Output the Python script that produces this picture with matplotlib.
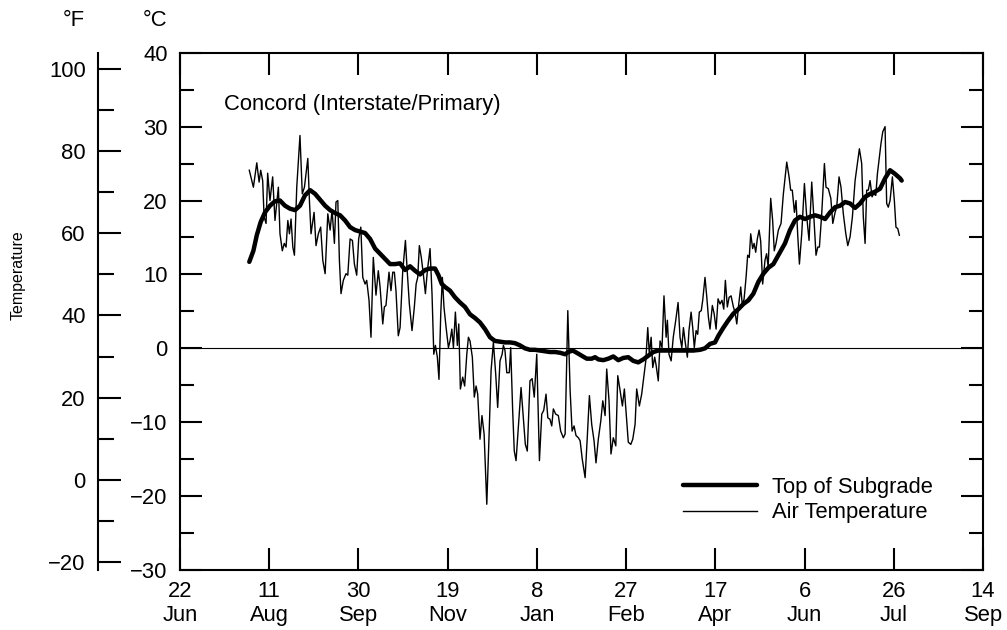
import matplotlib
matplotlib.use("Agg")
import matplotlib.pyplot as plt
from matplotlib.ticker import MultipleLocator, FixedLocator

plt.rcParams['font.family'] = ['Liberation Sans', 'DejaVu Sans']

# days counted from 22 Jun
tick_days = [0, 50, 100, 150, 200, 250, 300, 350, 400, 450]
tick_labels = ['22\nJun', '11\nAug', '30\nSep', '19\nNov', '8\nJan',
               '27\nFeb', '17\nApr', '6\nJun', '26\nJul', '14\nSep']
f_major = [-20, 0, 20, 40, 60, 80, 100]
f_minor = [-10, 10, 30, 50, 70, 90]

# daily air temperature (deg C)
air_day = [38.8, 41.1, 43.0, 44.3, 45.2, 46.3, 47.1, 48.2, 49.1, 50.4,
           51.9, 53.2, 55.1, 56.0, 57.3, 58.4, 59.4, 60.4, 61.3, 62.2,
           63.2, 64.1, 65.4, 67.2, 68.5, 69.7, 71.6, 72.5, 73.4, 75.1,
           76.2, 77.5, 78.8, 80.0, 81.3, 82.8, 84.1, 85.2, 86.5, 87.4,
           88.4, 89.3, 90.2, 91.5, 93.0, 94.0, 95.3, 96.6, 97.7, 99.0,
           100.1, 101.3, 102.4, 103.7, 104.6, 105.9, 107.0, 108.3, 109.8, 111.1,
           112.1, 113.6, 114.5, 115.4, 117.1, 118.2, 119.2, 120.1, 121.0, 122.3,
           123.3, 124.8, 126.3, 127.4, 128.5, 130.0, 131.3, 132.3, 133.2, 134.1,
           135.2, 136.3, 137.5, 138.6, 140.1, 141.2, 142.2, 143.1, 144.2, 145.1,
           146.1, 147.0, 147.9, 149.1, 150.4, 151.3, 152.3, 153.2, 154.3, 155.4,
           156.2, 157.1, 158.4, 159.5, 160.7, 161.6, 162.5, 163.8, 164.9, 165.9,
           166.8, 168.1, 169.2, 170.4, 171.9, 173.2, 174.3, 175.6, 176.9, 178.0,
           179.3, 180.5, 181.2, 182.1, 183.1, 184.5, 185.3, 186.4, 187.3, 188.3,
           189.6, 191.1, 192.4, 193.5, 194.6, 196.1, 197.3, 198.5, 199.9, 201.4,
           202.7, 203.8, 205.1, 206.1, 207.3, 208.3, 209.2, 210.5, 212.0, 213.3,
           214.8, 215.8, 217.3, 218.6, 219.7, 220.8, 221.9, 223.2, 224.2, 225.4,
           227.0, 228.2, 229.4, 230.7, 232.0, 233.1, 234.4, 235.8, 236.9, 238.2,
           239.1, 240.4, 241.5, 242.8, 244.2, 245.3, 246.6, 247.9, 249.0, 249.9,
           251.2, 252.6, 253.7, 255.0, 255.9, 257.4, 258.7, 259.6, 261.0, 262.1,
           263.0, 264.0, 264.9, 266.0, 266.8, 268.0, 269.0, 270.1, 271.2, 272.4,
           273.1, 274.0, 275.2, 276.4, 277.8, 279.1, 280.2, 281.2, 282.1, 283.0,
           284.3, 285.2, 286.4, 287.3, 288.2, 289.2, 290.1, 291.0, 292.1, 292.9,
           294.2, 295.2, 296.1, 297.0, 298.3, 299.3, 300.4, 301.5, 302.6, 303.7,
           304.7, 305.6, 306.7, 307.7, 308.8, 310.1, 311.0, 312.0, 313.1, 314.2,
           315.1, 316.1, 317.2, 318.1, 319.0, 319.8, 320.9, 321.7, 322.6, 323.5,
           324.5, 325.4, 326.5, 327.8, 328.7, 329.6, 331.0, 332.1, 333.0, 334.0,
           335.3, 336.8, 338.1, 340.0, 341.3, 342.2, 343.1, 344.3, 345.2, 346.2,
           347.1, 348.4, 349.9, 351.2, 352.5, 354.0, 355.3, 356.4, 357.4, 358.3,
           359.6, 361.1, 362.0, 363.3, 364.7, 365.8, 367.1, 368.0, 369.3, 370.4,
           371.7, 373.1, 374.2, 375.5, 376.8, 378.3, 379.6, 380.7, 382.0, 382.9,
           383.9, 384.8, 385.7, 386.7, 387.8, 388.7, 389.9, 390.8, 391.9, 392.8,
           393.8, 395.1, 396.0, 396.9, 397.9, 399.2, 400.3, 401.2, 402.2, 403.1]
air_temp = [24.1, 21.8, 25.1, 22.5, 24.1, 22.7, 17.8, 16.9, 23.7, 20.0,
            23.2, 17.3, 21.8, 15.5, 13.2, 14.2, 13.7, 17.3, 15.5, 17.5,
            13.7, 12.6, 21.8, 28.8, 20.9, 21.8, 25.7, 20.0, 15.5, 18.4,
            13.9, 15.5, 16.4, 11.9, 10.1, 18.2, 16.0, 18.7, 14.2, 19.8,
            20.0, 11.9, 7.4, 9.2, 10.1, 9.9, 14.8, 14.6, 11.4, 9.9,
            14.8, 16.4, 9.6, 8.7, 9.2, 6.5, 1.5, 12.3, 7.2, 10.5,
            8.3, 3.3, 5.6, 5.8, 10.3, 7.8, 10.3, 10.3, 7.8, 1.7,
            2.8, 10.5, 14.6, 10.1, 6.0, 2.4, 5.6, 8.7, 9.6, 13.9,
            12.3, 10.1, 7.4, 10.5, 13.5, 7.4, -0.8, 0.4, -1.2, -4.2,
            4.7, 9.6, 5.6, 2.8, 0.1, 1.0, 2.6, 0.1, 4.9, 0.4,
            3.3, -5.5, -3.9, -5.1, -0.8, 1.5, 1.0, -1.2, -6.6, -5.1,
            -6.2, -12.3, -9.1, -11.6, -21.1, -11.6, -3.0, 0.8, -3.5, -8.0,
            -1.7, -0.8, 0.4, -0.3, -3.3, -3.3, 0.1, -8.4, -13.9, -15.2,
            -10.7, -5.3, -9.4, -13.0, -13.9, -4.4, -4.1, -6.6, -0.8, -15.2,
            -8.9, -8.4, -6.2, -9.4, -9.6, -10.5, -8.2, -8.9, -9.1, -11.2,
            -12.1, -11.6, 5.1, -5.7, -11.2, -10.5, -11.8, -12.1, -12.5, -15.0,
            -17.5, -12.1, -6.4, -10.3, -12.5, -15.5, -12.3, -9.8, -7.1, -9.1,
            -2.8, -7.1, -14.3, -12.1, -13.2, -3.7, -5.7, -7.8, -5.5, -8.4,
            -12.7, -13.0, -12.3, -10.3, -5.5, -7.8, -6.2, -4.4, -1.7, 2.8,
            -0.8, 1.5, -2.6, -1.2, -2.3, -4.4, 1.0, 0.1, 7.1, 1.5,
            3.8, -0.8, -1.7, 1.5, 3.8, 6.2, 1.5, 0.1, 2.8, 1.0,
            -1.2, 2.4, 4.9, 2.8, 0.1, 2.4, 1.9, 4.9, 5.1, 6.5,
            9.6, 6.9, 4.2, 2.6, 5.8, 4.7, 2.6, 6.7, 6.0, 6.5,
            5.3, 9.2, 5.6, 6.9, 7.1, 5.6, 4.9, 3.3, 6.0, 8.3,
            5.8, 6.7, 9.6, 12.6, 12.3, 15.5, 13.5, 14.2, 13.0, 14.8,
            16.0, 14.5, 8.7, 11.9, 12.8, 11.0, 20.3, 17.3, 13.2, 14.2,
            16.0, 16.9, 20.9, 25.2, 23.2, 21.4, 21.4, 18.4, 20.0, 15.1,
            11.4, 15.5, 22.3, 17.8, 14.6, 22.5, 17.3, 12.6, 13.7, 13.7,
            18.2, 25.0, 21.8, 21.6, 20.3, 16.9, 18.4, 19.1, 23.2, 21.8,
            18.2, 15.5, 13.9, 15.1, 17.8, 22.7, 25.0, 27.0, 25.0, 17.8,
            14.2, 21.4, 21.4, 22.7, 20.5, 20.9, 20.7, 23.6, 25.9, 27.7,
            29.3, 30.0, 19.6, 19.1, 20.0, 23.2, 20.0, 16.4, 16.2, 15.3]

# top of subgrade temperature (deg C)
sub_day = [38.8, 41.1, 43.0, 45.2, 47.6, 50.4, 53.2, 56.0, 58.8, 61.6,
           64.4, 67.2, 70.0, 72.9, 75.7, 78.5, 81.3, 84.1, 86.9, 89.7,
           92.5, 95.3, 98.1, 100.9, 103.7, 106.5, 109.3, 112.1, 114.9, 117.7,
           120.5, 123.3, 126.1, 128.9, 131.7, 134.5, 137.3, 140.1, 142.9, 144.8,
           146.7, 148.5, 151.3, 154.1, 156.9, 159.7, 162.5, 165.3, 168.1, 170.9,
           173.7, 176.5, 179.3, 182.1, 184.9, 187.7, 190.5, 193.3, 196.1, 198.9,
           201.7, 204.5, 207.3, 210.2, 213.0, 215.8, 217.6, 220.1, 222.3, 225.1,
           227.9, 230.7, 232.6, 234.4, 237.2, 240.0, 242.8, 245.6, 248.4, 251.2,
           254.0, 256.8, 259.6, 262.4, 265.2, 268.0, 270.8, 273.6, 276.4, 280.2,
           284.0, 287.7, 291.4, 294.2, 297.0, 299.8, 301.7, 304.5, 307.3, 310.1,
           312.9, 315.7, 318.5, 321.3, 324.1, 326.9, 329.7, 332.5, 336.2, 339.0,
           341.8, 344.6, 347.4, 350.2, 353.1, 355.9, 358.7, 361.5, 364.3, 367.1,
           369.9, 372.7, 375.5, 378.3, 381.1, 383.9, 386.7, 389.5, 392.3, 395.1,
           397.9, 400.7, 403.5, 404.4]
sub_temp = [11.7, 13.2, 15.3, 17.1, 18.4, 19.3, 19.9, 20.0, 19.3, 18.9,
            18.7, 19.3, 20.7, 21.4, 20.9, 20.1, 19.3, 18.7, 18.3, 18.0,
            17.3, 16.4, 16.0, 15.8, 15.6, 14.8, 13.5, 12.8, 12.1, 11.4,
            11.4, 11.5, 10.6, 11.1, 10.5, 10.0, 10.6, 10.8, 10.8, 9.9,
            8.7, 8.3, 7.8, 6.9, 6.2, 5.6, 4.6, 4.1, 3.5, 2.6,
            1.5, 1.0, 0.9, 0.8, 0.8, 0.7, 0.4, 0.0, -0.2, -0.2,
            -0.3, -0.4, -0.5, -0.5, -0.6, -0.8, -0.5, -0.3, -0.6, -1.0,
            -1.4, -1.4, -1.2, -1.5, -1.6, -1.4, -1.1, -1.6, -1.3, -1.2,
            -1.7, -1.9, -1.5, -1.0, -0.5, -0.3, -0.3, -0.3, -0.3, -0.3,
            -0.3, -0.3, -0.2, 0.0, 0.6, 0.8, 1.7, 2.8, 3.8, 4.7,
            5.3, 6.0, 6.5, 7.4, 9.0, 10.1, 10.9, 11.4, 13.0, 14.2,
            16.0, 17.3, 17.8, 17.5, 17.8, 18.0, 17.8, 17.5, 18.4, 19.1,
            19.3, 19.8, 19.6, 19.0, 19.6, 20.5, 20.9, 21.2, 21.6, 23.0,
            24.1, 23.6, 23.0, 22.7]

fs = 15.8

fig = plt.figure(figsize=(10.07, 6.30), dpi=100)
ax = fig.add_axes([0.1788, 0.0952, 0.7974, 0.8211])

ax.axhline(0, color='black', lw=0.8)
air_line, = ax.plot(air_day, air_temp, color='black', lw=1.0, label='Air Temperature')
sub_line, = ax.plot(sub_day, sub_temp, color='black', lw=3.2, label='Top of Subgrade',
                    solid_capstyle='round', solid_joinstyle='round')

ax.set_xlim(0, 450)
ax.set_ylim(-30, 40)
ax.set_xticks(tick_days)
ax.set_xticklabels(tick_labels)
ax.yaxis.set_major_locator(MultipleLocator(10))
ax.yaxis.set_minor_locator(MultipleLocator(5))

ax.tick_params(which='both', direction='in', top=True, right=True, width=1.5,
               labelsize=fs)
ax.tick_params(which='major', length=15.5)
ax.tick_params(which='minor', length=10)
ax.tick_params(axis='x', pad=8)
ax.tick_params(axis='y', pad=9)
for sp in ax.spines.values():
    sp.set_linewidth(1.5)

# Fahrenheit scale drawn as a separate spine to the left
secax = ax.secondary_yaxis(-0.102, functions=(lambda c: c * 9 / 5 + 32,
                                              lambda f: (f - 32) * 5 / 9))
secax.yaxis.set_major_locator(FixedLocator(f_major))
secax.yaxis.set_minor_locator(FixedLocator(f_minor))
secax.tick_params(which='both', direction='in', width=1.5, labelsize=fs, pad=9)
secax.tick_params(which='major', length=16.5)
secax.tick_params(which='minor', length=11.5)
secax.spines['left'].set_linewidth(1.5)

fig.text(74 / 1007, 1 - 21 / 630, '°F', ha='center', va='center', fontsize=fs)
fig.text(155 / 1007, 1 - 21 / 630, '°C', ha='center', va='center', fontsize=fs)
fig.text(18 / 1007, 1 - 275 / 630, 'Temperature', rotation=90,
         ha='center', va='center', fontsize=11.5)

ax.text(0.0548, 0.899, 'Concord (Interstate/Primary)', transform=ax.transAxes,
        fontsize=fs, va='center', ha='left')

ax.legend(handles=[sub_line, air_line], loc='upper left', bbox_to_anchor=(0.6264, 0.18),
          frameon=False, fontsize=fs, handlelength=3.35, handletextpad=0.7,
          labelspacing=0.2, borderpad=0, borderaxespad=0)

fig.savefig('out.png', dpi=100)
